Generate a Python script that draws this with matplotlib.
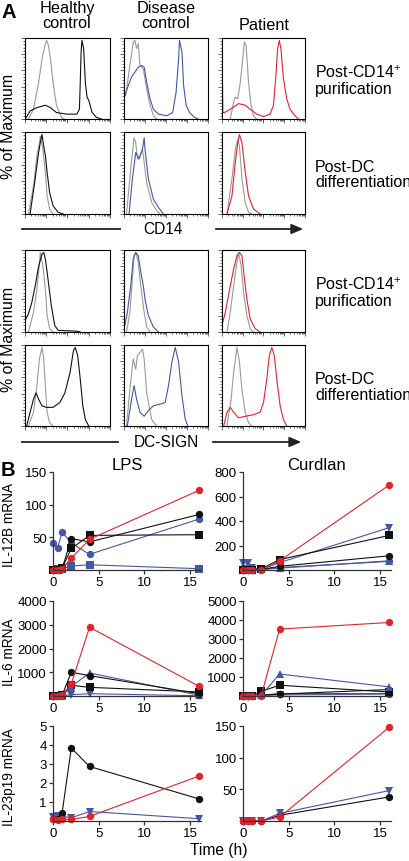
import matplotlib
matplotlib.use("Agg")
import matplotlib.pyplot as plt
import numpy as np

plt.rcParams['font.family'] = ['Liberation Sans', 'DejaVu Sans']
plt.rcParams['mathtext.fontset'] = 'custom'
plt.rcParams['mathtext.rm'] = 'Liberation Sans'
plt.rcParams['mathtext.it'] = 'Liberation Sans'

W, H = 410, 862
BLACK = '#111111'
GRAY = '#9a9a9a'
BLUE = '#4457a3'
RED = '#e3232b'

# ---------------- Panel A: flow histograms (normalized log-x, % of max) ----------------
col_titles = ['Healthy\ncontrol', 'Disease\ncontrol', 'Patient']
row_labels = ['Post-CD14$^{+}$\npurification', 'Post-DC\ndifferentiation',
              'Post-CD14$^{+}$\npurification', 'Post-DC\ndifferentiation']
marker_labels = ['CD14', 'DC-SIGN']

# CD14, post-CD14+ purification
r1c1_iso_x = [0.04, 0.10, 0.16, 0.20, 0.24, 0.255, 0.275, 0.30, 0.33, 0.37, 0.43, 0.46]
r1c1_iso_y = [0, 12, 45, 74, 93, 97, 91, 74, 45, 17, 2, 0]
r1c1_x = [0.01, 0.06, 0.14, 0.24, 0.30, 0.37, 0.49, 0.61, 0.64, 0.65, 0.66, 0.67, 0.69, 0.71, 0.73, 0.75, 0.79, 0.84, 0.90]
r1c1_y = [1, 10, 14, 17, 14, 8, 6, 6, 12, 45, 83, 97, 87, 45, 27, 23, 8, 2, 0]
r1c2_iso_x = [0.02, 0.07, 0.11, 0.13, 0.15, 0.17, 0.19, 0.23, 0.27, 0.31, 0.35, 0.39]
r1c2_iso_y = [29, 66, 95, 97, 87, 93, 66, 62, 37, 17, 4, 0]
r1c2_x = [0.01, 0.05, 0.09, 0.13, 0.17, 0.21, 0.24, 0.27, 0.31, 0.35, 0.41, 0.51, 0.58, 0.62, 0.65, 0.66, 0.69, 0.71, 0.74, 0.78, 0.84, 0.88]
r1c2_y = [29, 41, 52, 58, 64, 66, 64, 45, 25, 12, 6, 4, 8, 33, 74, 97, 83, 41, 17, 8, 2, 0]
r1c3_iso_x = [0.10, 0.14, 0.16, 0.19, 0.22, 0.25, 0.27, 0.29, 0.32, 0.35, 0.38, 0.42]
r1c3_iso_y = [0, 21, 27, 25, 45, 74, 95, 91, 45, 17, 4, 0]
r1c3_x = [0.005, 0.01, 0.03, 0.10, 0.20, 0.28, 0.34, 0.42, 0.50, 0.58, 0.62, 0.65, 0.67, 0.69, 0.71, 0.74, 0.78, 0.82, 0.88, 0.92]
r1c3_y = [54, 8, 8, 12, 19, 17, 12, 6, 3, 6, 17, 54, 87, 97, 87, 50, 25, 12, 4, 0]

# CD14, post-DC differentiation
r2c1_iso_x = [0.04, 0.10, 0.14, 0.17, 0.18, 0.21, 0.24, 0.26, 0.29, 0.33]
r2c1_iso_y = [0, 34, 71, 87, 95, 79, 51, 22, 6, 0]
r2c1_x = [0.06, 0.12, 0.16, 0.18, 0.20, 0.22, 0.24, 0.26, 0.29, 0.33, 0.39, 0.45]
r2c1_y = [0, 43, 75, 87, 97, 83, 71, 51, 26, 10, 2, 0]
r2c2_iso_x = [0.03, 0.08, 0.12, 0.14, 0.16, 0.19, 0.22, 0.24, 0.27, 0.33, 0.39, 0.43]
r2c2_iso_y = [0, 55, 93, 87, 67, 71, 79, 63, 38, 14, 4, 0]
r2c2_x = [0.06, 0.10, 0.14, 0.18, 0.22, 0.24, 0.25, 0.29, 0.35, 0.41, 0.47]
r2c2_y = [0, 43, 75, 67, 79, 93, 79, 43, 18, 8, 0]
r2c3_iso_x = [0.06, 0.12, 0.16, 0.19, 0.21, 0.24, 0.28, 0.32, 0.36]
r2c3_iso_y = [0, 43, 79, 91, 83, 43, 14, 2, 0]
r2c3_x = [0.06, 0.12, 0.16, 0.19, 0.21, 0.24, 0.28, 0.32, 0.38, 0.46]
r2c3_y = [0, 22, 63, 87, 97, 87, 51, 22, 6, 0]

# DC-SIGN, post-CD14+ purification
r3c1_iso_x = [0.04, 0.10, 0.14, 0.17, 0.18, 0.21, 0.24, 0.26, 0.29, 0.33]
r3c1_iso_y = [0, 24, 52, 84, 97, 81, 52, 20, 4, 0]
r3c1_x = [0.01, 0.04, 0.08, 0.12, 0.16, 0.20, 0.22, 0.24, 0.27, 0.31, 0.35, 0.39, 0.61, 0.65]
r3c1_y = [16, 22, 36, 56, 80, 95, 97, 89, 65, 32, 8, 2, 1, 0]
r3c2_iso_x = [0.03, 0.07, 0.10, 0.12, 0.14, 0.17, 0.20, 0.24, 0.27, 0.31]
r3c2_iso_y = [0, 24, 65, 94, 97, 85, 56, 24, 6, 0]
r3c2_x = [0.01, 0.04, 0.08, 0.11, 0.14, 0.17, 0.20, 0.23, 0.25, 0.29, 0.35, 0.41]
r3c2_y = [8, 24, 56, 89, 97, 93, 73, 56, 40, 20, 6, 0]
r3c3_iso_x = [0.06, 0.10, 0.14, 0.18, 0.20, 0.23, 0.26, 0.30, 0.34, 0.38]
r3c3_iso_y = [0, 24, 56, 85, 97, 81, 48, 20, 4, 0]
r3c3_x = [0.01, 0.04, 0.10, 0.14, 0.18, 0.21, 0.24, 0.27, 0.30, 0.34, 0.40, 0.46]
r3c3_y = [12, 24, 56, 77, 93, 97, 93, 65, 40, 16, 4, 0]

# DC-SIGN, post-DC differentiation
r4c1_iso_x = [0.04, 0.10, 0.14, 0.17, 0.20, 0.22, 0.24, 0.26, 0.29, 0.33]
r4c1_iso_y = [0, 17, 50, 83, 97, 83, 50, 17, 4, 0]
r4c1_x = [0.02, 0.06, 0.10, 0.13, 0.16, 0.20, 0.25, 0.33, 0.41, 0.47, 0.53, 0.57, 0.59, 0.62, 0.65, 0.68, 0.71, 0.75]
r4c1_y = [0, 17, 33, 41, 33, 25, 23, 23, 29, 41, 66, 93, 97, 87, 58, 25, 8, 0]
r4c2_iso_x = [0.03, 0.07, 0.11, 0.14, 0.16, 0.22, 0.24, 0.27, 0.33, 0.39]
r4c2_iso_y = [0, 45, 83, 70, 87, 95, 83, 41, 8, 0]
r4c2_x = [0.04, 0.09, 0.12, 0.15, 0.19, 0.24, 0.29, 0.35, 0.43, 0.49, 0.53, 0.57, 0.61, 0.65, 0.69, 0.73, 0.76]
r4c2_y = [0, 33, 50, 33, 17, 12, 19, 25, 27, 29, 50, 79, 97, 79, 37, 8, 0]
r4c3_iso_x = [0.06, 0.11, 0.14, 0.18, 0.21, 0.24, 0.28, 0.32, 0.36]
r4c3_iso_y = [0, 33, 66, 97, 79, 45, 17, 4, 0]
r4c3_x = [0.02, 0.06, 0.10, 0.14, 0.20, 0.28, 0.38, 0.46, 0.50, 0.54, 0.57, 0.60, 0.63, 0.66, 0.70, 0.74, 0.78]
r4c3_y = [0, 17, 23, 17, 10, 12, 14, 17, 29, 58, 87, 97, 87, 58, 25, 8, 0]

hist_panels = [
    [(r1c1_iso_x, r1c1_iso_y, r1c1_x, r1c1_y), (r1c2_iso_x, r1c2_iso_y, r1c2_x, r1c2_y), (r1c3_iso_x, r1c3_iso_y, r1c3_x, r1c3_y)],
    [(r2c1_iso_x, r2c1_iso_y, r2c1_x, r2c1_y), (r2c2_iso_x, r2c2_iso_y, r2c2_x, r2c2_y), (r2c3_iso_x, r2c3_iso_y, r2c3_x, r2c3_y)],
    [(r3c1_iso_x, r3c1_iso_y, r3c1_x, r3c1_y), (r3c2_iso_x, r3c2_iso_y, r3c2_x, r3c2_y), (r3c3_iso_x, r3c3_iso_y, r3c3_x, r3c3_y)],
    [(r4c1_iso_x, r4c1_iso_y, r4c1_x, r4c1_y), (r4c2_iso_x, r4c2_iso_y, r4c2_x, r4c2_y), (r4c3_iso_x, r4c3_iso_y, r4c3_x, r4c3_y)],
]
col_colors = [BLACK, BLUE, RED]

# ---------------- Panel B: mRNA time courses ----------------
time_h = [0, 0.5, 1, 2, 4, 16]
stimuli = ['LPS', 'Curdlan']
genes = ['IL-12B mRNA', 'IL-6 mRNA', 'IL-23p19 mRNA']

lps_il12b_black_circle = [0, 0, 2, 48, 43, 85]
lps_il12b_black_square = [0, 0, 3, 33, 53, 54]
lps_il12b_blue_circle = [42, 33, 58, 41, 24, 78]
lps_il12b_blue_square = [0, 1, 2, 6, 8, 2]
lps_il12b_red_circle = [0, 0, 2, 18, 47, 122]

cur_il12b_black_circle = [0, 0, 0, 5, 30, 116]
cur_il12b_black_square = [0, 0, 0, 10, 85, 282]
cur_il12b_blue_circle = [0, 0, 0, 5, 20, 70]
cur_il12b_blue_tri_up = [30, 40, 10, 5, 15, 75]
cur_il12b_blue_tri_down = [55, 60, 15, 5, 60, 346]
cur_il12b_red_circle = [0, 0, 0, 3, 75, 693]

lps_il6_black_circle = [0, 0, 30, 1000, 858, 100]
lps_il6_black_square = [0, 0, 30, 450, 365, 170]
lps_il6_blue_tri_up = [0, 0, 20, 400, 970, 30]
lps_il6_blue_tri_down = [0, 0, 10, 55, 97, 10]
lps_il6_red_circle = [0, 0, 55, 507, 2898, 405]

cur_il6_black_circle = [0, 0, 0, 50, 100, 340]
cur_il6_black_square = [0, 0, 0, 250, 565, 210]
cur_il6_blue_circle = [0, 0, 0, 30, 130, 130]
cur_il6_blue_tri_up = [0, 0, 0, 40, 1158, 480]
cur_il6_blue_tri_down = [0, 0, 0, 20, 60, 100]
cur_il6_red_circle = [0, 0, 0, 25, 3520, 3870]

lps_il23_black_circle = [0.1, 0.1, 0.44, 3.84, 2.87, 1.16]
lps_il23_blue_tri_down = [0.2, 0.25, 0.25, 0.17, 0.5, 0.12]
lps_il23_red_circle = [0.1, 0.05, 0.1, 0.08, 0.24, 2.37]

cur_il23_black_circle = [0, 0, 0, 0, 9, 38]
cur_il23_blue_tri_down = [0, 0, 0, 0, 12, 48]
cur_il23_red_circle = [0, 0, 0, 0, 6, 148]

b_panels = {
    (0, 0): [(lps_il12b_blue_square, BLUE, 's'), (lps_il12b_blue_circle, BLUE, 'o'),
             (lps_il12b_black_square, BLACK, 's'), (lps_il12b_black_circle, BLACK, 'o'),
             (lps_il12b_red_circle, RED, 'o')],
    (0, 1): [(cur_il12b_blue_circle, BLUE, 'o'), (cur_il12b_blue_tri_up, BLUE, '^'),
             (cur_il12b_blue_tri_down, BLUE, 'v'), (cur_il12b_black_circle, BLACK, 'o'),
             (cur_il12b_black_square, BLACK, 's'), (cur_il12b_red_circle, RED, 'o')],
    (1, 0): [(lps_il6_blue_tri_down, BLUE, 'v'), (lps_il6_black_square, BLACK, 's'),
             (lps_il6_blue_tri_up, BLUE, '^'), (lps_il6_black_circle, BLACK, 'o'),
             (lps_il6_red_circle, RED, 'o')],
    (1, 1): [(cur_il6_blue_tri_down, BLUE, 'v'), (cur_il6_blue_circle, BLUE, 'o'),
             (cur_il6_black_circle, BLACK, 'o'), (cur_il6_black_square, BLACK, 's'),
             (cur_il6_blue_tri_up, BLUE, '^'), (cur_il6_red_circle, RED, 'o')],
    (2, 0): [(lps_il23_blue_tri_down, BLUE, 'v'), (lps_il23_black_circle, BLACK, 'o'),
             (lps_il23_red_circle, RED, 'o')],
    (2, 1): [(cur_il23_black_circle, BLACK, 'o'), (cur_il23_blue_tri_down, BLUE, 'v'),
             (cur_il23_red_circle, RED, 'o')],
}
b_yticks = {
    (0, 0): [50, 100, 150], (0, 1): [200, 400, 600, 800],
    (1, 0): [1000, 2000, 3000, 4000], (1, 1): [1000, 2000, 3000, 4000, 5000],
    (2, 0): [1, 2, 3, 4, 5], (2, 1): [50, 100, 150],
}
x_ticks = [0, 5, 10, 15]

# ---------------- drawing ----------------
fig = plt.figure(figsize=(W / 100, H / 100), dpi=100)


def rect(l, t, r, b):
    return [l / W, 1 - b / H, (r - l) / W, (b - t) / H]


def fx(x):
    return x / W


def fy(y):
    return 1 - y / H


hist_cols = [(25, 110), (124, 208), (222, 305)]
hist_rows = [(39, 120), (133, 215), (251, 333), (346, 427)]

minor_x = []
for d in range(4):
    for k in range(2, 10):
        minor_x.append((d + np.log10(k)) / 4)
minor_y = [v for v in np.arange(0, 101, 4) if v % 20 != 0]

for ri, (t, b) in enumerate(hist_rows):
    for ci, (l, r) in enumerate(hist_cols):
        ax = fig.add_axes(rect(l, t, r, b))
        ix, iy, sx, sy = hist_panels[ri][ci]
        ax.plot(ix, iy, color=GRAY, lw=0.8)
        ax.plot(sx, sy, color=col_colors[ci], lw=0.8)
        ax.set_xlim(0, 1)
        ax.set_ylim(0, 100)
        ax.set_xticks([0, 0.25, 0.5, 0.75, 1])
        ax.set_xticks(minor_x, minor=True)
        ax.set_yticks([0, 20, 40, 60, 80, 100])
        ax.set_yticks(minor_y, minor=True)
        ax.tick_params(which='both', labelbottom=False, labelleft=False,
                       direction='out', width=0.5, color='#333333')
        ax.tick_params(which='major', length=3)
        ax.tick_params(which='minor', length=1.5)
        for s in ax.spines.values():
            s.set_linewidth(0.8)

FS = 11.7
# column titles
fig.text(fx(67), fy(16), col_titles[0], ha='center', va='center', fontsize=FS, linespacing=1.0)
fig.text(fx(166), fy(16), col_titles[1], ha='center', va='center', fontsize=FS, linespacing=1.0)
fig.text(fx(264), fy(25), col_titles[2], ha='center', va='center', fontsize=FS)
fig.text(fx(1), fy(12), 'A', fontsize=14.5, fontweight='bold', ha='left', va='center')

for ri, (t, b) in enumerate(hist_rows):
    fig.text(fx(315), fy((t + b) / 2 + 1), row_labels[ri], ha='left', va='center',
             fontsize=11.5, linespacing=1.05)

fig.text(fx(9), fy(126), '% of Maximum', rotation=90, ha='center', va='center', fontsize=11.4)
fig.text(fx(9), fy(339), '% of Maximum', rotation=90, ha='center', va='center', fontsize=11.4)

# marker axis arrows
for (yy, lab, l1, l2, a1, a2, tx) in [(230, marker_labels[0], 22, 120, 213, 306, 163),
                                       (443, marker_labels[1], 22, 118, 210, 304, 166)]:
    fig.add_artist(plt.Line2D([fx(l1), fx(l2)], [fy(yy), fy(yy)], color='#222222', lw=1.3))
    fig.text(fx(tx), fy(yy), lab, ha='center', va='center', fontsize=11.2)
    fig.add_artist(matplotlib.patches.FancyArrowPatch(
        (fx(a1), fy(yy)), (fx(a2), fy(yy)), transform=fig.transFigure,
        arrowstyle='-|>,head_length=7,head_width=3', color='#222222', lw=1.3))

fig.text(fx(1), fy(471), 'B', fontsize=14.5, fontweight='bold', ha='left', va='center')

b_cols = [(53, 201), (243, 391)]
b_rows = [(473, 571), (602, 697), (727, 822)]

for ri, (t, b) in enumerate(b_rows):
    for ci, (l, r) in enumerate(b_cols):
        ax = fig.add_axes(rect(l, t, r, b))
        yt = b_yticks[(ri, ci)]
        ymax = yt[-1]
        for vals, c, m in b_panels[(ri, ci)]:
            ax.plot(time_h, vals, color=c, lw=0.8, marker=m, markersize=5.3,
                    markeredgewidth=0, clip_on=False)
        ax.set_xlim(0, 16.2)
        ax.set_ylim(0, ymax)
        ax.set_yticks(yt)
        ax.set_yticklabels([str(v) for v in yt])
        ax.set_xticks(x_ticks)
        ax.spines['top'].set_visible(False)
        ax.spines['right'].set_visible(False)
        ax.spines['left'].set_linewidth(0.9)
        ax.spines['bottom'].set_linewidth(0.9)
        ax.spines['bottom'].set_color('#333333')
        ax.spines['left'].set_color('#333333')
        ax.tick_params(direction='out', length=3, width=0.9, labelsize=9.5, pad=1.5, color='#333333')
        if ri == 0:
            ax.set_title(stimuli[ci], fontsize=12, pad=1)
    fig.text(fx(9), fy((t + b) / 2 + 3), genes[ri], rotation=90, ha='center', va='center', fontsize=9.8)

fig.text(fx(219), fy(851), 'Time (h)', ha='center', va='center', fontsize=11.2)

fig.savefig('out.png', dpi=100)
